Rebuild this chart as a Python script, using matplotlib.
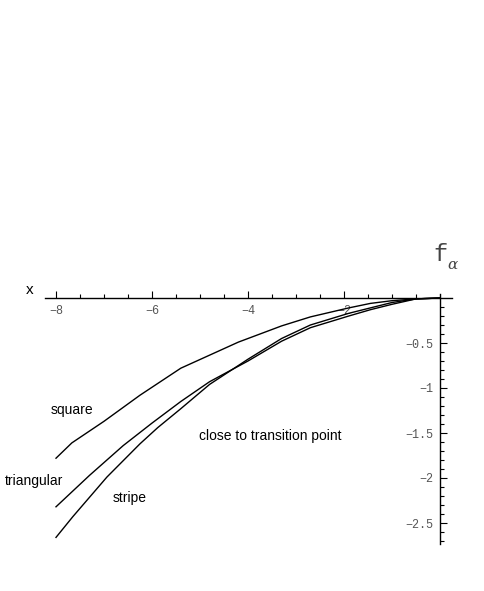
import numpy as np
import matplotlib
matplotlib.use('Agg')
import matplotlib.pyplot as plt
from matplotlib.ticker import FixedLocator, FixedFormatter

# curves
sq_x = [-8.0, -7.67, -7.0, -6.25, -5.4, -4.2, -3.3, -2.7, -1.9, -1.45, -1.0, -0.5, 0.0]
sq_f = [-1.78, -1.61, -1.37, -1.08, -0.78, -0.49, -0.31, -0.21, -0.11, -0.06, -0.03, -0.01, 0.0]

tri_x = [-8.0, -7.3, -6.6, -6.0, -5.4, -4.8, -4.0, -3.3, -2.7, -1.9, -1.45, -1.0, -0.5, 0.0]
tri_f = [-2.32, -1.97, -1.64, -1.39, -1.15, -0.93, -0.70, -0.48, -0.33, -0.20, -0.13, -0.07, -0.01, 0.0]

str_x = [-8.0, -7.65, -6.94, -6.25, -5.88, -5.4, -4.8, -4.0, -3.3, -2.7, -1.9, -1.45, -1.0, -0.5, 0.0]
str_f = [-2.66, -2.43, -1.99, -1.62, -1.44, -1.23, -0.96, -0.68, -0.45, -0.30, -0.17, -0.11, -0.05, -0.01, 0.0]

x_ticks = [-8, -6, -4, -2]
x_ticklabels = ['\u22128', '\u22126', '\u22124', '\u22122']
y_ticks = [-0.5, -1.0, -1.5, -2.0, -2.5]
y_ticklabels = ['\u22120.5', '\u22121', '\u22121.5', '\u22122', '\u22122.5']

fig = plt.figure(figsize=(4.85, 5.91), dpi=100)
ax = fig.add_axes([0, 0, 1, 1])
ax.set_xlim(-440 / 48, 45 / 48)
ax.set_ylim((298 - 591) / 90, 298 / 90)

for xs, fs in [(sq_x, sq_f), (tri_x, tri_f), (str_x, str_f)]:
    ax.plot(xs, fs, color='black', lw=1.0)

# Mathematica style axes crossing at origin
for s in ['top', 'right']:
    ax.spines[s].set_visible(False)
ax.spines['left'].set_position(('data', 0))
ax.spines['bottom'].set_position(('data', 0))
ax.spines['bottom'].set_bounds(-8.22, 0.25)
ax.spines['left'].set_bounds(-2.73, 0.05)
for s in ['left', 'bottom']:
    ax.spines[s].set_linewidth(1.0)

ax.xaxis.set_major_locator(FixedLocator(x_ticks))
ax.xaxis.set_major_formatter(FixedFormatter(x_ticklabels))
ax.xaxis.set_minor_locator(FixedLocator(np.arange(-8, -0.4, 0.5)))
ax.yaxis.set_major_locator(FixedLocator(y_ticks))
ax.yaxis.set_major_formatter(FixedFormatter(y_ticklabels))
ax.yaxis.set_minor_locator(FixedLocator(np.arange(-2.7, -0.05, 0.1)))

ax.tick_params(which='both', direction='in', color='black', width=0.8)
ax.tick_params(which='major', length=5)
ax.tick_params(which='minor', length=3)
ax.tick_params(axis='x', pad=5, labelsize=8.5, labelcolor='#555555')
ax.tick_params(axis='y', pad=5, labelsize=8.5, labelcolor='#555555')
for lab in ax.get_xticklabels() + ax.get_yticklabels():
    lab.set_family(['Liberation Mono', 'DejaVu Sans Mono'])

fig.text(0.148, 0.306, 'square', ha='center', va='center', fontsize=10, family='Liberation Sans')
fig.text(0.070, 0.186, 'triangular', ha='center', va='center', fontsize=10, family='Liberation Sans')
fig.text(0.268, 0.157, 'stripe', ha='center', va='center', fontsize=10, family='Liberation Sans')
fig.text(0.557, 0.262, 'close to transition point', ha='center', va='center', fontsize=10,
         family='Liberation Sans')
fig.text(0.062, 0.509, 'x', ha='center', va='center', fontsize=11, family='Liberation Sans')
fig.text(0.909, 0.570, 'f', ha='center', va='center', fontsize=17, color='#444444',
         family='Liberation Mono')
fig.text(0.932, 0.552, '\u03b1', ha='center', va='center', fontsize=11, color='#444444',
         family='DejaVu Serif', style='italic')

fig.savefig('out.png', dpi=100)
